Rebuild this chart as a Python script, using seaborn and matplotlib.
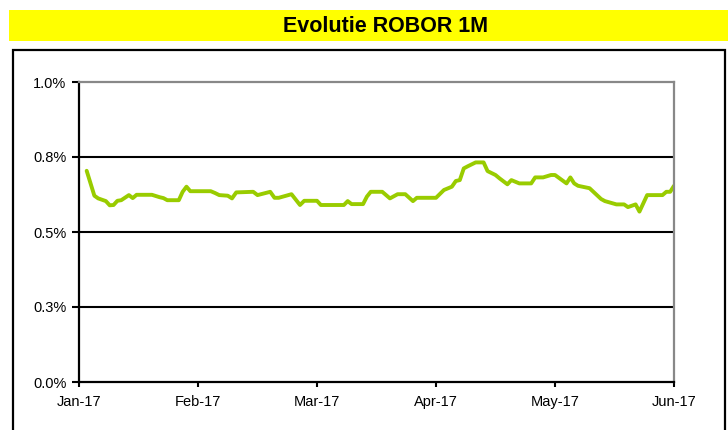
import numpy as np
import pandas as pd
import matplotlib
matplotlib.use("Agg")
import matplotlib.pyplot as plt
import seaborn as sns
from matplotlib.patches import Rectangle

#### data ####
title = "Evolutie ROBOR 1M"
dates = [
    "2017-01-03", "2017-01-05", "2017-01-06", "2017-01-08", "2017-01-09", "2017-01-10",
    "2017-01-11", "2017-01-12", "2017-01-14", "2017-01-15", "2017-01-16", "2017-01-20",
    "2017-01-22", "2017-01-23", "2017-01-24", "2017-01-27", "2017-01-28", "2017-01-29",
    "2017-01-30", "2017-02-04", "2017-02-05", "2017-02-06", "2017-02-08", "2017-02-09",
    "2017-02-10", "2017-02-14", "2017-02-15", "2017-02-18", "2017-02-19", "2017-02-20",
    "2017-02-23", "2017-02-25", "2017-02-26", "2017-03-01", "2017-03-02", "2017-03-08",
    "2017-03-09", "2017-03-10", "2017-03-13", "2017-03-14", "2017-03-15", "2017-03-18",
    "2017-03-20", "2017-03-22", "2017-03-24", "2017-03-26", "2017-03-27", "2017-04-01",
    "2017-04-03", "2017-04-05", "2017-04-06", "2017-04-07", "2017-04-08", "2017-04-09",
    "2017-04-11", "2017-04-13", "2017-04-14", "2017-04-16", "2017-04-17", "2017-04-19",
    "2017-04-20", "2017-04-22", "2017-04-25", "2017-04-26", "2017-04-28", "2017-04-30",
    "2017-05-01", "2017-05-04", "2017-05-05", "2017-05-06", "2017-05-07", "2017-05-10",
    "2017-05-13", "2017-05-14", "2017-05-17", "2017-05-19", "2017-05-20", "2017-05-22",
    "2017-05-23", "2017-05-25", "2017-05-29", "2017-05-30", "2017-05-31", "2017-06-01",
]
robor = [
    0.704, 0.621, 0.612, 0.603, 0.589, 0.590,
    0.604, 0.606, 0.623, 0.613, 0.624, 0.624,
    0.616, 0.613, 0.606, 0.606, 0.634, 0.651,
    0.636, 0.636, 0.630, 0.623, 0.621, 0.612,
    0.632, 0.634, 0.623, 0.634, 0.614, 0.614,
    0.626, 0.590, 0.604, 0.604, 0.590, 0.590,
    0.603, 0.593, 0.593, 0.618, 0.634, 0.634,
    0.612, 0.626, 0.626, 0.603, 0.614, 0.614,
    0.640, 0.651, 0.670, 0.673, 0.712, 0.719,
    0.732, 0.732, 0.703, 0.690, 0.679, 0.659,
    0.673, 0.662, 0.662, 0.682, 0.682, 0.690,
    0.690, 0.662, 0.682, 0.662, 0.654, 0.646,
    0.610, 0.603, 0.592, 0.592, 0.583, 0.592,
    0.568, 0.623, 0.623, 0.634, 0.634, 0.654,
]
month_labels = ["Jan-17", "Feb-17", "Mar-17", "Apr-17", "May-17", "Jun-17"]
y_ticks = [0.0, 0.25, 0.5, 0.75, 1.0]
y_labels = ["0.0%", "0.3%", "0.5%", "0.8%", "1.0%"]

#### figure settings ####
sns.set_style("white")
plt.rcParams["font.family"] = ["Liberation Sans", "DejaVu Sans"]
plt.rcParams["text.color"] = "black"
plt.rcParams["xtick.color"] = "black"
plt.rcParams["ytick.color"] = "black"

df = pd.DataFrame({"date": pd.to_datetime(dates), "robor": robor})
# months are evenly spaced on the axis (category-like date axis)
df["pos"] = (df["date"].dt.month - 1) + (df["date"].dt.day - 1) / df["date"].dt.days_in_month

W, H = 728, 430
fig = plt.figure(figsize=(W / 100, H / 100), dpi=100)

# yellow title band and outer frame
fig.patches.append(Rectangle((9 / W, 1 - 41 / H), 1 - 9 / W, 31 / H, transform=fig.transFigure,
                             facecolor="#ffff00", edgecolor="none", zorder=0))
fig.text(386 / W, 1 - 26 / H, title, ha="center", va="center", fontsize=15.5,
         fontweight="bold", color="black")
fig.patches.append(Rectangle((13 / W, -0.05), 712 / W, 1 - 50 / H + 0.05, transform=fig.transFigure,
                             facecolor="none", edgecolor="black", linewidth=1.6, zorder=0))

ax = fig.add_axes([79 / W, 1 - 382 / H, (674 - 79) / W, 300 / H])
sns.lineplot(data=df, x="pos", y="robor", color="#99cc00", linewidth=2.8, ax=ax)

ax.set_xlim(0, len(month_labels) - 1)
ax.set_ylim(0, 1.0)
ax.set_xticks(range(len(month_labels)))
ax.set_xticklabels(month_labels)
ax.set_yticks(y_ticks)
ax.set_yticklabels(y_labels)
ax.set_xlabel("")
ax.set_ylabel("")

ax.grid(axis="y", color="black", linewidth=1.5)
ax.grid(axis="x", visible=False)
gl = ax.get_ygridlines()
gl[0].set_visible(False)
gl[-1].set_visible(False)
ax.set_axisbelow(True)

for s in ["left", "bottom"]:
    ax.spines[s].set_color("black")
    ax.spines[s].set_linewidth(1.6)
for s in ["top", "right"]:
    ax.spines[s].set_color("#888888")
    ax.spines[s].set_linewidth(1.6)

ax.tick_params(axis="y", direction="out", length=5, width=1.5, labelsize=10.5, pad=4, left=True)
ax.tick_params(axis="x", direction="out", length=3.5, width=1.5, labelsize=10.5, pad=6, bottom=True)

plt.savefig("out.png", dpi=100)
